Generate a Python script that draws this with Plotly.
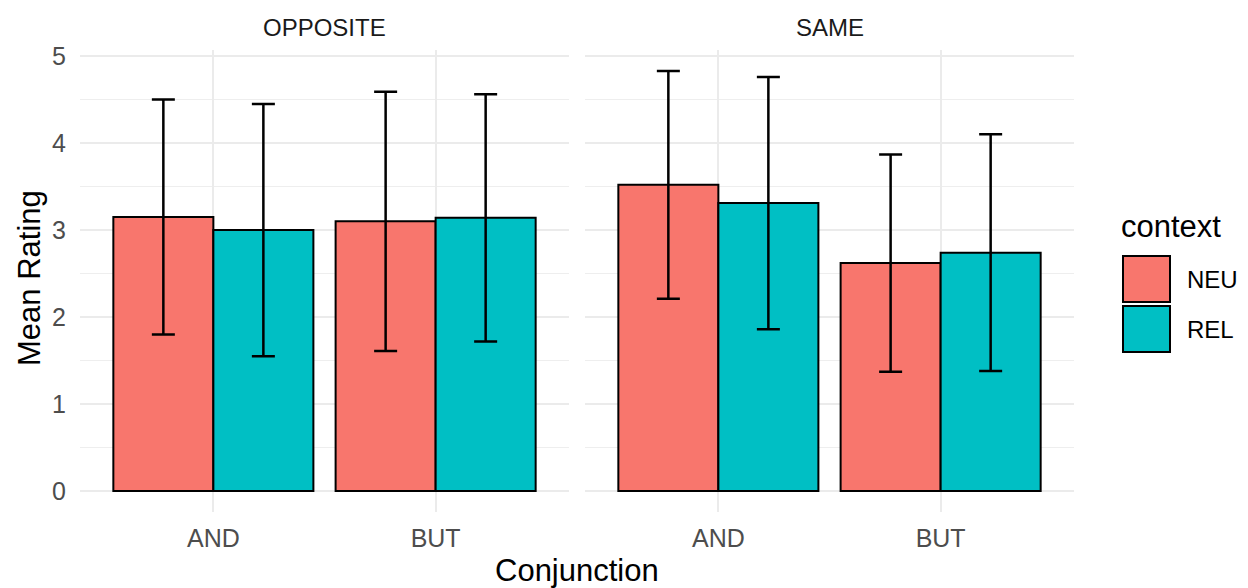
import plotly.graph_objects as go

# ---- data ----
panels = ["OPPOSITE", "SAME"]
conjunctions = ["AND", "BUT"]
contexts = ["NEU", "REL"]
neu_opposite = [3.15, 3.10]
rel_opposite = [3.00, 3.14]
neu_same = [3.52, 2.62]
rel_same = [3.31, 2.74]
neu_opposite_sd = [1.35, 1.49]
rel_opposite_sd = [1.45, 1.42]
neu_same_sd = [1.31, 1.25]
rel_same_sd = [1.45, 1.36]
y_ticks = [0, 1, 2, 3, 4, 5]

colors = {"NEU": "#F8766D", "REL": "#00BFC4"}
FONT = "Liberation Sans, Arial, sans-serif"

OFF = 8  # page body margin
W, H = 1248 - OFF, 588 - OFF
# plot area in screenshot pixels
PL, PR, PT, PB = 80, 1074, 50, 512
ML, MR, MT, MB = PL - OFF, W - (PR - OFF), PT - OFF, H - (PB - OFF)
PW, PH = W - ML - MR, H - MT - MB


def px_x(px):
    return (px - PL) / PW


def px_y(py):
    return (PB - py) / PH


fig = go.Figure()
series = [
    ("x", "NEU", neu_opposite, neu_opposite_sd),
    ("x", "REL", rel_opposite, rel_opposite_sd),
    ("x2", "NEU", neu_same, neu_same_sd),
    ("x2", "REL", rel_same, rel_same_sd),
]
for xa, ctx, vals, sds in series:
    fig.add_trace(go.Bar(
        x=conjunctions, y=vals, name=ctx, xaxis=xa, yaxis="y",
        offsetgroup=ctx, showlegend=False,
        marker=dict(color=colors[ctx], line=dict(color="#000000", width=2)),
        error_y=dict(type="data", array=sds, visible=True,
                     color="#000000", thickness=2.5, width=11.5),
    ))

grid = "#EBEBEB"
xcommon = dict(type="category", range=[-0.6, 1.6], showgrid=True, gridcolor=grid,
               gridwidth=1.6, zeroline=False, showline=False, ticks="",
               tickfont=dict(family=FONT, size=25, color="#4D4D4D"),
               ticklabelstandoff=9, fixedrange=True)
fig.update_layout(
    width=W, height=H,
    margin=dict(l=ML, r=MR, t=MT, b=MB, autoexpand=False),
    paper_bgcolor="white", plot_bgcolor="white",
    barmode="group", bargap=0.1, bargroupgap=0,
    showlegend=False,
    xaxis=dict(domain=[0, 489 / PW], anchor="y", **xcommon),
    xaxis2=dict(domain=[505 / PW, 1], anchor="y", **xcommon),
    yaxis=dict(range=[-0.2415, 5.07], tickvals=y_ticks, showgrid=True,
               gridcolor=grid, gridwidth=1.6, zeroline=False, showline=False,
               ticks="", tickfont=dict(family=FONT, size=25, color="#4D4D4D"),
               ticklabelstandoff=13,
               minor=dict(dtick=0.5, showgrid=True, gridcolor="#EEEEEE", gridwidth=1.1)),
)

ann = []
# strip titles
ann.append(dict(text=panels[0], x=px_x((80 + 569) / 2), y=px_y(28), xref="paper", yref="paper",
                showarrow=False, font=dict(family=FONT, size=24, color="#1A1A1A"),
                xanchor="center", yanchor="middle"))
ann.append(dict(text=panels[1], x=px_x((585 + 1074) / 2), y=px_y(28), xref="paper", yref="paper",
                showarrow=False, font=dict(family=FONT, size=24, color="#1A1A1A"),
                xanchor="center", yanchor="middle"))
# axis titles
ann.append(dict(text="Conjunction", x=px_x(577), y=px_y(570), xref="paper", yref="paper",
                showarrow=False, font=dict(family=FONT, size=31, color="#000000"),
                xanchor="center", yanchor="middle"))
ann.append(dict(text="Mean Rating", x=px_x(29), y=px_y(278), xref="paper", yref="paper",
                showarrow=False, textangle=-90, font=dict(family=FONT, size=31, color="#000000"),
                xanchor="center", yanchor="middle"))
# legend
ann.append(dict(text="context", x=px_x(1119), y=px_y(227), xref="paper", yref="paper",
                showarrow=False, font=dict(family=FONT, size=31, color="#000000"),
                xanchor="left", yanchor="middle"))
shapes = []
key_tops = [256, 306]
for ctx, top in zip(contexts, key_tops):
    shapes.append(dict(type="rect", xref="paper", yref="paper",
                       x0=px_x(1123), x1=px_x(1170), y0=px_y(top + 46), y1=px_y(top),
                       fillcolor=colors[ctx], line=dict(color="#000000", width=2)))
    ann.append(dict(text=ctx, x=px_x(1185), y=px_y(top + 23), xref="paper", yref="paper",
                    showarrow=False, font=dict(family=FONT, size=24, color="#000000"),
                    xanchor="left", yanchor="middle"))
fig.update_layout(annotations=ann, shapes=shapes)

fig.write_html("out.html")
